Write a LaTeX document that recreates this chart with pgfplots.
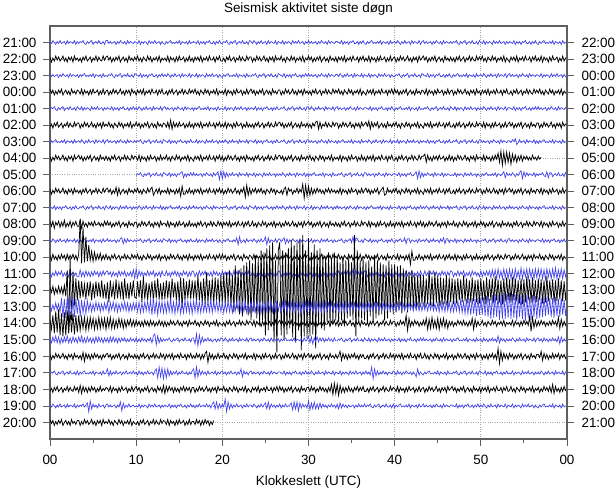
\documentclass[border=0pt]{standalone}
\usepackage{pgfplots}
\usepackage{pgfplotstable}
\pgfplotsset{compat=1.18}
\usepackage{fontspec}
\setmainfont{Liberation Sans}
\definecolor{trblue}{RGB}{65,65,240}
\definecolor{axgray}{RGB}{95,95,95}
\definecolor{gridgray}{RGB}{165,165,165}
% one line per hour trace (21:00 ... 20:00), one sample every 1/6 minute, amplitudes in px
\pgfplotstableread[header=false]{1 -1 2 0 -2 1 -1 2 -1 0 1 -2 2 -1 1 0 -1 2 -2 1  -1 1 0 2 -1 -2 1 -1 1 2 -2 0 1 -1 2 -1 -1 1 -2 2  2 -1 1 -1 0 1 -2 1 -1 2 0 -1 1 -2 2 -1 1 0 -1 1  0 -1 2 -2 1 -1 1 0 -2 2 -1 1 -1 2 -1 0 1 -2 1 -1  -2 1 -1 1 2 -1 0 -1 1 -1 2 -2 1 0 -1 1 -2 2 -1 0  1 0 -1 2 -2 1 -1 1 -2 1 0 2 -1 -1 1 -2 1 -1 2 -1  -1 1 0 2 -1 -2 1 -1 1 2 -2 0 1 -1 2 -1 -1 1 -2 2  1 -1 2 0 -2 1 -1 2 -1 0 1 -2 2 -1 1 0 -1 2 -2 1  0 -1 2 -2 1 -1 1 0 -2 2 -1 1 -1 2 -1 0 1 -2 1 -1  2 -1 1 -1 0 1 -2 1 -1 2 0 -1 1 -2 2 -1 1 0 -1 1  1 0 -1 2 -2 1 -1 1 -2 1 0 2 -1 -1 1 -2 1 -1 2 -1  -2 1 -1 1 2 -1 0 -1 1 -1 2 -2 1 0 -1 1 -2 2 -1 0  1 -1 2 0 -2 1 -1 2 -1 0 1 -2 2 -1 1 0 -1 2 -2 1  2 -1 1 -1 0 1 -2 1 -1 2 0 -1 1 -2 2 -1 1 0 -1 1  -1 1 0 2 -1 -2 1 -1 1 2 -2 0 1 -1 2 -1 -1 1 -2 2  0 -1 2 -2 1 -1 1 0 -2 2 -1 1 -1 2 -1 0 1 -2 1 -1  1 0 -1 2 -2 1 -1 1 -2 1 0 2 -1 -1 1 -2 1 -1 2 -1  -2 1 -1 1 2 -1 0 -1 1 -1 2 -2 1 0 -1 1 -2 2 -1 0  0
2 -3 1 -2 3 -1 2 -2 0 3 -2 1 -3 2 -1 2 -3 3 -1 1  -2 1 -3 2 -1 3 -2 0 2 -3 1 -1 3 -2 2 -1 -2 3 -1 2  3 -1 2 -3 1 -2 2 -1 3 -3 0 2 -2 1 -3 3 -1 1 -2 2  -1 3 -2 1 -3 2 0 -2 3 -1 2 -3 1 -1 2 -2 3 -3 1 -1  1 -2 3 -3 2 -1 1 -3 2 -2 3 -1 0 2 -3 1 -2 3 -2 1  -3 2 -1 2 -2 3 -3 1 -1 2 -2 3 -1 -1 2 -3 2 -1 3 -2  -2 1 -3 2 -1 3 -2 0 2 -3 1 -1 3 -2 2 -1 -2 3 -1 2  2 -3 1 -2 3 -1 2 -2 0 3 -2 1 -3 2 -1 2 -3 3 -1 1  -1 3 -2 1 -3 2 0 -2 3 -1 2 -3 1 -1 2 -2 3 -3 1 -1  3 -1 2 -3 1 -2 2 -1 3 -3 0 2 -2 1 -3 3 -1 1 -2 2  -3 2 -1 2 -2 3 -3 1 -1 2 -2 3 -1 -1 2 -3 2 -1 3 -2  1 -2 3 -3 2 -1 1 -3 2 -2 3 -1 0 2 -3 1 -2 3 -2 1  2 -3 1 -2 3 -1 2 -2 0 3 -2 1 -3 2 -1 2 -3 3 -1 1  3 -1 2 -3 1 -2 2 -1 3 -3 0 2 -2 1 -3 3 -1 1 -2 2  -2 1 -3 2 -1 3 -2 0 2 -3 1 -1 3 -2 2 -1 -2 3 -1 2  -1 3 -2 1 -3 2 0 -2 3 -1 2 -3 1 -1 2 -2 3 -3 1 -1  -3 2 -1 2 -2 3 -3 1 -1 2 -2 3 -1 -1 2 -3 2 -1 3 -2  1 -2 3 -3 2 -1 1 -3 2 -2 3 -1 0 2 -3 1 -2 3 -2 1  0
2 -1 1 -1 0 1 -2 1 -1 2 0 -1 1 -2 2 -1 1 0 -1 1  -2 1 -1 1 2 -1 0 -1 1 -1 2 -2 1 0 -1 1 -2 2 -1 0  -1 1 0 2 -1 -2 1 -1 1 2 -2 0 1 -1 2 -1 -1 1 -2 2  1 0 -1 2 -2 1 -1 1 -2 1 0 2 -1 -1 1 -2 1 -1 2 -1  1 -1 2 0 -2 1 -1 2 -1 0 1 -2 2 -1 1 0 -1 2 -2 1  0 -1 2 -2 1 -1 1 0 -2 2 -1 1 -1 2 -1 0 1 -2 1 -1  -2 1 -1 1 2 -1 0 -1 1 -1 2 -2 1 0 -1 1 -2 2 -1 0  -1 1 0 2 -1 -2 1 -1 1 2 -2 0 1 -1 2 -1 -1 1 -2 2  1 0 -1 2 -2 1 -1 1 -2 1 0 2 -1 -1 1 -2 1 -1 2 -1  2 -1 1 -1 0 1 -2 1 -1 2 0 -1 1 -2 2 -1 1 0 -1 1  1 -1 2 0 -2 1 -1 2 -1 0 1 -2 2 -1 1 0 -1 2 -2 1  0 -1 2 -2 1 -1 1 0 -2 2 -1 1 -1 2 -1 0 1 -2 1 -1  -1 1 0 2 -1 -2 1 -1 1 2 -2 0 1 -1 2 -1 -1 1 -2 2  1 0 -1 2 -2 1 -1 1 -2 1 0 2 -1 -1 1 -2 1 -1 2 -1  -2 1 -1 1 2 -1 0 -1 1 -1 2 -2 1 0 -1 1 -2 2 -1 0  1 -1 2 0 -2 1 -1 2 -1 0 1 -2 2 -1 1 0 -1 2 -2 1  2 -1 1 -1 0 1 -2 1 -1 2 0 -1 1 -2 2 -1 1 0 -1 1  0 -1 2 -2 1 -1 1 0 -2 2 -1 1 -1 2 -1 0 1 -2 1 -1  0
3 -1 2 -3 1 -2 2 -1 3 -3 0 2 -2 1 -3 3 -1 1 -2 2  1 -2 3 -3 2 -1 1 -3 2 -2 3 -1 0 2 -3 1 -2 3 -2 1  2 -3 1 -2 3 -1 2 -2 0 3 -2 1 -3 2 -1 2 -3 3 -1 1  -3 2 -1 2 -2 3 -3 1 -1 2 -2 3 -1 -1 2 -3 2 -1 3 -2  -2 1 -3 2 -1 3 -2 0 2 -3 1 -1 3 -2 2 -1 -2 3 -1 2  -1 3 -2 1 -3 2 0 -2 3 -1 2 -3 1 -1 2 -2 3 -3 1 -1  1 -2 3 -3 2 -1 1 -3 2 -2 3 -1 0 2 -3 1 -2 3 -2 1  3 -1 2 -3 1 -2 2 -1 3 -3 0 2 -2 1 -3 3 -1 1 -2 2  2 -3 1 -2 3 -1 2 -2 0 3 -2 1 -3 2 -1 2 -3 3 -1 1  -2 1 -3 2 -1 3 -2 0 2 -3 1 -1 3 -2 2 -1 -2 3 -1 2  -1 3 -2 1 -3 2 0 -2 3 -1 2 -3 1 -1 2 -2 3 -3 1 -1  -3 2 -1 2 -2 3 -3 1 -1 2 -2 3 -1 -1 2 -3 2 -1 3 -2  3 -1 2 -3 1 -2 2 -1 3 -3 0 2 -2 1 -3 3 -1 1 -2 2  1 -2 3 -3 2 -1 1 -3 2 -2 3 -1 0 2 -3 1 -2 3 -2 1  2 -3 1 -2 3 -1 2 -2 0 3 -2 1 -3 2 -1 2 -3 3 -1 1  -3 2 -1 2 -2 3 -3 1 -1 2 -2 3 -1 -1 2 -3 2 -1 3 -2  -2 1 -3 2 -1 3 -2 0 2 -3 1 -1 3 -2 2 -1 -2 3 -1 2  -1 3 -2 1 -3 2 0 -2 3 -1 2 -3 1 -1 2 -2 3 -3 1 -1  0
-1 1 0 2 -1 -2 1 -1 1 2 -2 0 1 -1 2 -1 -1 1 -2 2  0 -1 2 -2 1 -1 1 0 -2 2 -1 1 -1 2 -1 0 1 -2 1 -1  1 0 -1 2 -2 1 -1 1 -2 1 0 2 -1 -1 1 -2 1 -1 2 -1  1 -1 2 0 -2 1 -1 2 -1 0 1 -2 2 -1 1 0 -1 2 -2 1  2 -1 1 -1 0 1 -2 1 -1 2 0 -1 1 -2 2 -1 1 0 -1 1  -2 1 -1 1 2 -1 0 -1 1 -1 2 -2 1 0 -1 1 -2 2 -1 0  0 -1 2 -2 1 -1 1 0 -2 2 -1 1 -1 2 -1 0 1 -2 1 -1  1 0 -1 2 -2 1 -1 1 -2 1 0 2 -1 -1 1 -2 1 -1 2 -1  -1 1 0 2 -1 -2 1 -1 1 2 -2 0 1 -1 2 -1 -1 1 -2 2  1 -1 2 0 -2 1 -1 2 -1 0 1 -2 2 -1 1 0 -1 2 -2 1  2 -1 1 -1 0 1 -2 1 -1 2 0 -1 1 -2 2 -1 1 0 -1 1  1 0 -1 2 -2 1 -1 1 -2 1 0 2 -1 -1 1 -2 1 -1 2 -1  -2 1 -1 1 2 -1 0 -1 1 -1 2 -2 1 0 -1 1 -2 2 -1 0  -1 1 0 2 -1 -2 1 -1 1 2 -2 0 1 -1 2 -1 -1 1 -2 2  0 -1 2 -2 1 -1 1 0 -2 2 -1 1 -1 2 -1 0 1 -2 1 -1  1 -1 2 0 -2 1 -1 2 -1 0 1 -2 2 -1 1 0 -1 2 -2 1  1 0 -1 2 -2 1 -1 1 -2 1 0 2 -1 -1 1 -2 1 -1 2 -1  2 -1 1 -1 0 1 -2 1 -1 2 0 -1 1 -2 2 -1 1 0 -1 1  0
-2 1 -3 2 -1 3 -2 0 2 -3 1 -1 3 -2 2 -1 -2 3 -1 2  2 -3 1 -2 3 -1 2 -2 0 3 -2 1 -3 2 -1 2 -3 3 -1 1  -1 3 -2 1 -3 2 0 -2 3 -1 2 -3 1 -1 2 -2 3 -3 1 -1  3 -1 2 -3 1 -2 2 -1 3 -3 0 2 -2 1 -3 3 -1 1 -2 2  1 -2 3 -3 5 -4 3 -2 2 -2 3 -1 0 2 -3 1 -2 3 -2 1  -3 2 -1 2 -2 3 -3 1 -1 2 -2 3 -1 -1 2 -3 2 -1 3 -2  1 -2 3 -3 2 -1 1 -3 2 -2 3 -1 0 2 -3 1 -2 3 -2 1  -2 1 -3 2 -1 3 -2 0 2 -3 1 -1 3 -2 2 -1 -2 3 -1 2  3 -1 2 -3 1 -2 2 -1 3 -3 0 2 -2 1 -3 3 -1 1 -2 2  -2 1 -3 2 -1 3 4 -4 3 -3 1 -1 3 -2 2 -1 -2 3 -1 2  2 -3 1 -2 3 -1 2 -2 0 3 -2 1 -3 2 -1 2 -3 3 -1 1  3 -1 4 -4 3 -2 2 -1 3 -3 0 2 -2 1 -3 3 -1 1 -2 2  -1 3 -2 1 -3 2 0 -2 3 -1 2 -3 1 -1 2 -2 3 -3 1 -1  -3 2 -1 2 -2 3 -3 1 -1 2 -2 3 -1 -1 2 -3 2 -1 3 -2  -2 1 -3 2 -1 3 -2 0 2 -3 1 -1 3 -2 2 -1 -2 3 -1 2  1 -2 3 -3 2 -1 1 -3 2 -2 3 -1 0 2 -3 1 -2 3 -2 1  3 -1 2 -3 1 -2 2 -1 3 -3 0 2 -2 1 -3 3 -1 1 -2 2  2 -3 1 -2 3 -1 2 -2 0 3 -2 1 -3 2 -1 2 -3 3 -1 1  0
-2 1 -1 1 2 -1 0 -1 1 -1 2 -2 1 0 -1 1 -2 2 -1 0  1 -1 2 0 -2 1 -1 2 -1 0 1 -2 2 -1 1 0 -1 2 -2 1  2 -1 1 -1 0 1 -2 1 -1 2 0 -1 1 -2 2 -1 1 0 -1 1  -1 1 0 2 -1 -2 1 -1 1 2 -2 0 1 -1 2 -1 -1 1 -2 2  1 0 -1 2 -2 1 -1 1 -2 1 0 2 -1 -1 1 -2 1 -1 2 -1  0 -1 2 -2 1 -1 1 0 -2 2 -1 1 -1 2 -1 0 1 -2 1 -1  1 -1 2 0 -2 1 -1 2 -1 0 1 -2 2 -1 1 0 -1 2 -2 1  1 0 -1 2 -2 1 -1 1 -2 1 0 2 -1 -1 1 -2 1 -1 2 -1  -1 1 0 2 -1 -2 1 -1 1 2 -2 0 1 -1 2 -1 -1 1 -2 2  2 -1 1 -1 0 1 -2 1 -1 2 0 -1 1 -2 2 -1 1 0 -1 1  -2 1 -1 1 2 -1 0 -1 1 -1 2 -2 1 0 -1 1 -2 2 -1 0  1 -1 2 0 -2 1 -1 2 -1 0 1 -2 2 -1 1 0 -1 2 -2 1  0 -1 2 -2 1 -1 1 0 -2 2 -1 1 -1 2 -1 0 1 -2 1 -1  1 0 -1 2 -2 1 -1 1 -2 1 0 2 -1 -1 1 -2 1 -1 2 -1  -1 1 0 2 -1 -2 1 -1 1 2 -2 0 1 -1 2 -1 -1 1 -2 2  2 -1 1 -1 0 1 -2 1 -1 2 0 -1 1 -2 2 -1 1 0 -1 1  1 -1 2 0 3 -3 -1 2 -1 0 1 -2 2 -1 1 0 -1 2 -2 1  -2 1 -1 1 2 -1 0 -1 1 -1 2 -2 1 0 -1 1 -2 2 -1 0  0
2 -3 1 -2 3 -1 2 -2 0 3 -2 1 -3 2 -1 2 -3 3 -1 1  3 -1 2 -3 1 -2 2 -1 3 -3 0 2 -2 1 -3 3 -1 1 -2 2  -2 1 -3 2 -1 3 -2 0 2 -3 1 -1 3 -2 2 -1 -2 3 -1 2  1 -2 3 -3 2 -1 1 -3 2 -2 3 -1 0 2 -3 1 -2 3 -2 1  -1 3 -2 1 -3 2 0 -2 3 -1 2 -3 1 -1 2 -2 3 -3 1 -1  -3 2 -1 2 -2 3 -3 1 -1 2 -2 3 -1 -1 2 -3 2 -1 3 -2  2 -3 1 -2 3 -1 2 -2 0 3 -2 1 -3 2 -1 2 -3 3 -1 1  -2 1 -3 2 -1 3 -2 0 2 -3 1 -1 3 -2 2 -1 -2 3 -1 2  3 -1 2 -3 1 -2 2 -1 3 -3 0 2 -2 1 -3 3 -1 1 -2 2  -1 3 -2 1 -3 2 0 -2 3 -1 2 -3 1 -1 2 -2 3 -3 1 -1  1 -2 3 -3 2 -1 1 -3 2 -2 3 -1 0 2 -3 1 -2 3 -2 1  -3 2 -1 2 -2 3 -3 1 -1 2 -2 3 -1 -1 2 -3 2 -1 3 -2  -2 1 -3 2 -1 3 -2 0 2 -3 1 -1 3 -2 2 -1 -2 3 -1 2  2 4 -4 3 -2 1 -3 2 -1 2 -2 3 -1 0 2 -3 1 -2 3 -2  2 -3 1 -2 3 -1 2 -2 0 3 -2 1 -3 2 -1 2 -3 3 -1 1  1 -2 3 -3 2 -1 1 -3 2 -2 3 -1 5 -4 7 -7 6 -5 6 -4  5 -6 4 -3 3 -4 2 -2 3 -3 2 -1 2 -2 1 -2 3 -1 1 -2  2 -1 1 0 0 0 0 0 0 0 0 0 0 0 0 0 0 0 0 0  0
0 0 0 0 0 0 0 0 0 0 0 0 0 0 0 0 0 0 0 0  0 0 0 0 0 0 0 0 0 0 0 0 0 0 0 0 0 0 0 0  0 0 0 0 0 0 0 0 0 0 0 0 0 0 0 0 0 0 0 0  -1 1 0 2 -1 -2 1 -1 1 2 -2 0 1 -1 2 -1 -1 1 -2 2  1 0 -1 2 -2 1 -1 1 -2 1 0 2 3 -3 1 -2 1 -1 2 -1  2 -1 1 -1 0 1 -2 1 -1 2 0 -1 1 -2 2 -1 1 3 -5 4  -4 3 -3 2 -2 1 -1 2 -1 0 1 -2 2 -1 1 0 -1 2 -2 1  0 -1 2 -2 1 -1 1 0 -2 2 -1 1 -1 2 -1 0 1 -2 1 -1  1 -1 2 0 -2 1 -1 2 -1 0 1 -2 2 -1 1 0 -1 2 -2 1  -2 1 -1 1 2 -1 0 -1 1 -1 2 -2 1 0 -1 1 -2 2 -1 0  -1 1 0 2 -1 -2 1 -1 1 2 -2 0 1 -1 2 -1 -1 1 -2 2  2 -1 1 -1 0 1 -2 1 -1 2 0 -1 1 -2 2 -1 1 0 -1 1  1 0 -1 2 -2 1 -1 1 -2 1 0 2 -1 -1 1 3 -4 4 -3 2  -2 1 -1 2 0 -1 1 -2 2 -1 1 0 -1 2 -2 1 -1 1 0 -1  0 -1 2 -2 1 -1 1 0 -2 2 -1 1 -1 2 -1 0 1 -2 1 -1  -2 1 -1 1 2 -1 0 -1 1 -1 2 -2 1 0 -1 1 3 -3 2 -1  1 -1 2 0 -2 1 -1 2 4 -4 3 -2 2 -1 1 0 -1 2 -2 1  -1 1 0 2 -1 -2 3 -3 2 2 -2 0 1 -1 2 -1 -1 1 -2 2  0
2 -3 1 -2 3 -1 2 -2 0 3 -2 1 -3 2 -1 2 -3 3 -1 1  -2 1 -3 2 -1 3 -2 0 2 -3 1 -1 3 -2 2 -1 -2 3 -1 2  3 -1 2 -3 1 -2 4 -4 3 -3 0 2 -2 1 -3 3 -1 1 -2 2  -1 3 -2 1 -3 2 0 -2 3 -1 2 4 -4 -1 2 -2 3 -3 1 -1  1 -2 3 -3 2 -1 1 -3 2 -2 3 -5 5 -3 -3 1 -2 3 -2 1  -3 2 -1 2 -2 3 -3 1 -1 2 -2 3 -1 -1 2 -3 2 -1 3 -2  2 -3 1 -2 3 -1 2 -2 0 3 -2 1 -3 2 -1 4 -6 6 -4 3  -3 2 -1 3 -2 2 -1 3 -2 1 -3 2 0 -2 3 -1 2 -3 1 -1  -2 1 -3 2 4 -4 3 0 2 -3 1 -1 3 -2 2 -1 7 -7 6 -5  5 -4 3 -3 2 -2 3 -1 2 -2 1 -3 2 -1 3 -2 2 -1 1 -2  1 -2 3 -3 2 -1 1 -3 2 -2 3 -1 0 2 -3 1 -2 3 -2 1  3 -1 2 -3 1 -2 2 -1 3 -3 0 2 4 -4 -3 3 -1 1 -2 2  -1 3 -2 1 -3 2 0 -2 3 -1 2 -3 1 -1 2 -2 3 -3 1 -1  -3 2 -1 2 -2 3 -3 1 -1 2 -2 3 -1 -1 2 -3 2 -1 3 -2  -2 1 -3 2 -1 3 -2 0 2 -3 1 -1 3 -2 2 -1 -2 3 -1 2  2 -3 1 -2 3 -1 2 -2 0 3 -2 1 -3 2 -1 2 -3 3 -1 1  3 -1 2 -3 1 -2 2 -1 3 -3 0 2 -2 1 -3 3 -1 1 -2 2  1 -2 3 -3 2 -1 1 -3 2 -2 3 -1 0 2 -3 1 -2 3 -2 1  0
1 0 -1 2 -2 1 -1 1 -2 1 0 2 -1 -1 1 -2 1 -1 2 -1  -1 1 0 2 -1 -2 1 -1 1 2 -2 0 1 -1 2 -1 -1 1 -2 2  0 -1 2 -2 1 -1 1 0 -2 2 -1 1 -1 2 -1 0 1 -2 1 -1  1 -1 2 0 -2 1 -1 2 -1 0 1 -2 2 -1 1 0 -1 2 -2 1  -2 1 -1 1 2 -1 0 -1 1 -1 2 -2 1 0 -1 1 -2 2 -1 0  2 -1 1 -1 0 1 -2 1 -1 2 0 -1 1 -2 2 -1 1 0 -1 1  -1 1 0 2 -1 -2 1 -1 1 2 -2 0 1 -1 2 -1 -1 1 -2 2  1 0 -1 2 -2 1 -1 1 -2 1 0 2 -1 -1 1 -2 1 -1 2 -1  1 -1 2 0 -2 1 -1 2 -1 0 1 -2 2 -1 1 0 -1 2 -2 1  0 -1 2 -2 1 -1 1 0 -2 2 -1 1 -1 2 -1 0 1 -2 1 -1  2 -1 1 -1 0 1 -2 1 -1 2 0 -1 1 -2 2 -1 1 0 -1 1  -2 1 -1 1 2 -1 0 -1 1 -1 2 -2 1 0 -1 1 -2 2 -1 0  1 0 -1 2 -2 1 -1 1 -2 1 0 2 -1 -1 1 -2 1 -1 2 -1  1 -1 2 0 -2 1 -1 2 -1 0 1 -2 2 -1 1 0 -1 2 -2 1  -1 1 0 2 -1 -2 1 -1 1 2 -2 0 1 -1 2 -1 -1 1 -2 2  0 -1 2 -2 1 -1 1 0 -2 2 -1 1 -1 2 -1 0 1 -2 1 -1  2 -1 1 -1 0 1 -2 1 -1 2 0 -1 1 -2 2 -1 1 0 -1 1  -2 1 -1 1 2 -1 0 -1 1 -1 2 -2 1 0 -1 1 -2 2 -1 0  0
3 -2 3 -4 2 -1 3 -3 2 -2 4 -3 1 -2 3 -3 2 -1 3 -2  -2 4 -4 3 -2 1 -3 2 -1 2 -2 3 -1 0 2 -2 1 -2 3 -1  3 -1 2 -3 1 -2 2 -1 3 -3 0 2 -2 1 -3 3 -1 1 -2 2  2 -3 1 -2 3 -1 2 -2 0 3 -2 1 -3 2 -1 2 -3 3 -1 1  1 -2 3 -3 2 -1 1 -3 2 -2 3 -1 0 2 -3 1 -2 3 -2 1  -2 1 -3 2 -1 3 -2 0 2 -3 1 -1 3 -2 2 -1 -2 3 -1 2  -3 2 -1 2 -2 3 -3 1 -1 2 -2 3 -1 -1 2 -3 2 -1 3 -2  -1 3 -2 1 -3 2 0 -2 3 -1 2 -3 1 -1 2 -2 3 -3 1 -1  2 -3 1 -2 3 -1 2 -2 0 3 -2 1 -3 2 -1 2 -3 3 -1 1  3 -1 2 -3 1 -2 2 -1 3 -3 0 2 -2 1 -3 3 -1 1 -2 2  -2 1 -3 2 -1 3 -2 0 2 -3 1 -1 3 -2 2 -1 -2 3 -1 2  1 -2 3 -3 2 -1 1 -3 2 -2 3 -1 0 2 -3 1 -2 3 -2 1  -3 2 -1 2 -2 3 -3 1 -1 2 -2 3 -1 -1 2 -3 2 -1 3 -2  2 -3 1 -2 3 -1 2 -2 0 3 -2 1 -3 2 -1 2 -3 3 -1 1  -1 3 -2 1 -3 2 0 -2 3 -1 2 -3 1 -1 2 -2 3 -3 1 -1  3 -1 2 -3 1 -2 2 -1 3 -3 0 2 -2 1 -3 3 -1 1 -2 2  -2 1 -3 2 -1 3 -2 0 2 -3 1 -1 3 -2 2 -1 -2 3 -1 2  1 -2 3 -3 2 -1 1 -3 2 -2 3 -1 0 2 -3 1 -2 3 -2 1  0
1 -1 2 0 -2 1 -1 2 -1 0 1 -2 2 -1 1 0 -1 2 -2 1  -2 1 -1 1 2 -1 0 -1 1 -1 2 -2 1 0 -1 1 -2 2 -1 0  2 -1 1 -1 0 1 -2 1 -1 2 3 -3 2 -2 2 -1 1 0 -1 1  -1 1 0 2 -1 -2 1 -1 1 2 -2 0 1 -1 2 -1 -1 1 -2 2  1 0 -1 2 -2 1 -1 1 -2 1 0 2 -1 -1 1 -2 1 -1 2 -1  0 -1 2 -2 1 -1 1 0 -2 2 -1 1 -1 2 -1 0 1 -2 1 -1  -2 1 -1 1 2 -1 0 -1 1 -1 3 -4 4 -2 -1 1 -2 2 -1 0  1 -1 2 0 -2 1 -1 2 -1 0 4 -4 3 -2 1 0 -1 2 -2 1  2 -1 1 3 -3 2 -2 1 -1 2 0 -1 1 -2 2 -1 1 0 -1 1  0 -1 2 -2 1 -1 1 0 -2 2 -1 1 -1 2 -1 0 1 -2 1 -1  -1 1 0 2 -1 -2 1 -1 1 2 -2 4 -4 3 2 -1 -1 1 -2 2  1 0 -1 2 -2 1 -1 1 -2 1 0 2 -1 -1 1 -2 1 -1 2 -1  -2 1 -1 1 2 -1 0 3 -3 2 2 -2 1 0 -1 1 -2 2 -1 0  1 -1 2 0 -2 1 -1 2 -1 0 1 -2 2 -1 3 -3 2 2 -2 1  0 -1 2 -2 1 -1 1 0 -2 2 -1 1 -1 2 -1 0 1 -2 1 -1  -1 1 0 2 -1 -2 1 -1 1 2 -2 0 1 -1 2 -1 -1 1 -2 2  2 -1 1 -1 0 1 -2 1 -1 2 0 -1 1 -2 2 -1 1 0 -1 1  1 0 -1 2 -2 1 -1 1 -2 1 0 2 -1 -1 1 -2 1 -1 2 -1  0
2 -3 3 -2 1 -3 2 -2 3 -1 2 -3 3 -2 2 -1 3 -2 2 -3  3 38 -6 30 -5 20 -4 12 -3 6 -4 5 -3 3 -2 4 -3 2 -2 3  -2 1 -3 2 -1 3 -2 0 2 -3 1 -1 3 -2 2 -1 -2 3 -1 2  -1 3 -2 1 -3 2 0 -2 3 -1 2 -3 1 -1 2 -2 3 -3 1 -1  2 -3 1 -2 3 -1 2 -2 0 3 -2 1 -3 2 -1 2 -3 3 -1 1  -3 2 -1 2 -2 3 -3 1 -1 2 -2 3 -1 -1 2 -3 2 -1 3 -2  3 -1 2 -3 1 -2 2 -1 3 -3 0 2 -2 1 -3 3 -1 1 -2 2  1 -2 3 -3 2 -1 1 -3 2 -2 3 -1 0 2 -3 1 -2 3 -2 1  -2 1 -3 2 -1 3 -2 0 2 -3 1 -1 3 -2 2 -1 -2 3 -1 2  2 -3 1 -2 3 -1 2 -2 0 3 -2 1 -3 2 -1 2 -3 3 -1 1  -1 3 -2 1 -3 2 0 -2 3 -1 2 -3 1 -1 2 -2 3 -3 1 -1  3 -1 2 -3 1 -2 2 -1 3 -3 0 2 -2 1 -3 3 -1 1 -2 2  1 -2 3 -3 2 -1 1 -3 2 -2 3 -7 6 -3 -3 1 -2 3 -2 1  -3 2 -1 2 -2 3 -3 1 -1 2 -2 3 -1 -1 2 -3 2 -1 3 -2  1 -2 3 -3 2 -1 1 -3 2 -2 3 -1 0 2 -3 1 -2 3 -2 1  -2 1 -3 2 -1 3 -2 0 2 -3 1 -1 3 -2 2 -1 -2 3 -1 2  2 -3 1 -2 3 -1 2 -2 0 3 -2 1 -3 2 -1 2 -3 3 -1 1  -1 3 -2 1 -3 2 0 -2 3 -1 2 -3 1 -1 2 -2 3 -3 1 -1  0
2 -3 1 -2 3 -2 2 -1 3 -3 1 -2 2 -3 3 -1 2 -2 1 -3  -3 4 -3 2 -3 3 -2 2 -3 2 -2 3 -1 2 -3 2 -2 3 -1 2  3 -1 2 -3 2 -2 1 -3 3 -2 2 -1 3 -3 1 -2 2 -3 4 -5  5 -4 3 -2 2 -3 1 -2 3 -2 2 -1 3 -3 1 -2 2 -3 3 -1  -2 3 -2 1 -3 2 -1 3 -2 2 -3 1 -2 3 -1 2 -3 2 -2 3  2 -3 1 -2 3 -2 2 -1 3 -3 1 -2 2 -3 3 -1 2 -2 1 -3  3 -1 2 -3 2 -2 1 -3 3 -2 2 -1 3 -3 1 -2 2 -3 3 -1  -2 3 -2 1 -3 2 -1 3 -2 2 -3 1 -2 3 -1 2 -3 2 -2 3  2 -3 1 -2 3 -2 2 -1 3 -3 1 -2 2 -3 3 -1 2 -2 1 -3  3 -1 2 -3 2 -2 1 -3 3 -2 2 -1 3 -3 1 -2 2 -3 3 -1  -2 3 -2 1 -3 2 -1 3 -2 2 -3 5 -5 4 -1 2 -3 2 -2 3  2 -3 1 -2 3 -2 2 -1 3 -3 1 -2 2 -3 3 -1 2 -2 1 -3  3 -1 2 -3 2 -2 1 -3 3 -2 2 -1 3 -3 1 -2 2 -3 3 -1  -2 3 -2 1 -3 2 -1 3 -2 2 -3 1 -2 3 -1 2 -3 2 -2 3  2 -3 1 -2 3 -2 2 -1 3 -3 1 -2 2 -3 3 -1 2 -2 1 -3  3 -3 2 -2 3 -2 3 -4 4 -3 4 -5 5 -4 3 -5 5 -4 4 -5  5 -5 4 -6 5 -4 3 -5 6 -5 4 -3 5 -6 5 -4 4 -5 5 -4  5 -4 5 -5 4 -6 5 -3 4 -5 5 -4 6 -5 4 -4 5 -5 4 -3  3
3 -2 4 -4 2 -3 4 -3 3 -4 5 -6 20 -42 33 -30 18 -15 12 -10  10 -8 9 -7 6 -9 8 -6 9 -10 7 -8 9 -6 8 -7 10 -8 6 -9  8 -12 10 -7 6 -9 11 -8 7 -6 9 -10 12 -8 7 -9 8 -6 10 -7  -8 9 -7 10 -12 14 -9 8 -10 7 -6 9 -11 10 -8 12 -9 7 -10 8  -9 10 -8 9 -11 12 -7 8 -10 9 -12 13 -18 12 -10 9 -8 11 -9 10  -8 10 -12 15 -10 9 -13 12 -14 18 -12 10 -11 12 -14 13 -10 12 -15 14  -15 17 -14 18 -12 20 -16 15 -22 25 -18 20 -24 22 -26 25 -20 28 -25 30  -30 27 -22 35 -28 32 -36 40 -30 38 -45 42 -40 45 -35 48 -52 30 -62 40  48 -45 40 -50 38 -44 42 -38 50 -47 45 -52 48 -40 50 -60 55 -46 40 -48  52 -46 38 -44 46 -58 40 -35 42 -38 36 -40 34 -32 38 -36 30 -34 38 -30  35 -32 28 -30 34 -36 30 -28 34 -26 28 -30 55 -46 40 -32 30 -28 32 -30  28 -32 30 -26 24 -30 34 -28 30 -25 28 -24 26 -30 25 -28 30 -22 26 -24  26 -22 24 -20 25 -23 22 -18 20 -22 18 -16 20 -18 16 -20 15 -18 16 -14  15 -17 12 -14 20 -15 14 -16 18 -13 14 -16 13 -15 12 -14 15 -16 13 -12  12 -14 11 -13 12 -10 11 -12 15 -11 12 -13 10 -12 13 -11 10 -12 11 -13  12 -11 10 -14 13 -12 11 -10 12 -13 14 -10 11 -12 10 -14 12 -11 13 -10  11 -12 13 -10 12 -11 10 -13 12 -14 11 -12 14 -10 11 -12 13 -11 10 -12  12 -10 11 -13 10 -12 14 -11 10 -9 11 -12 10 -11 12 -9 10 -11 9 -10  8
3 -4 2 -3 4 -3 3 -5 9 -10 8 -11 10 -9 11 -8 9 -10 8 -7  8 -10 7 -6 5 -7 6 -4 4 -5 3 -4 5 -3 4 -5 3 -4 4 -3  5 -6 4 -3 5 -4 4 -5 3 -4 4 -3 5 -4 4 -5 3 -4 4 -3  4 -5 5 -6 4 -5 5 -4 6 -5 7 -8 9 -7 6 -8 6 -5 5 -6  5 -6 6 -5 7 -6 5 -7 6 -5 6 -7 5 -6 7 -5 6 -6 5 -7  6 -5 7 -6 5 -6 6 -5 4 -5 6 -5 7 -6 5 -4 6 -5 4 -5  5 -6 4 -5 6 -5 4 -6 5 -4 5 -4 6 -5 4 -5 5 -6 4 -5  5 -4 6 -5 4 -5 5 -6 4 -5 4 -5 5 -4 6 -5 4 -5 5 -4  4 -5 5 -4 6 -5 4 -5 5 -4 5 -4 4 -5 5 -6 4 -4 5 -5  5 -4 4 -5 5 -6 4 -4 5 -5 4 -5 5 -4 4 -5 5 -4 3 -4  4 -5 5 -4 4 -5 5 -4 3 -4 4 -3 4 -4 3 -4 4 -3 4 -4  4 -3 4 -4 3 -4 4 -3 4 -4 3 -4 4 -3 4 -3 3 -4 3 -3  3 -4 4 -3 4 -3 3 -4 3 -3 4 -3 3 -4 4 -3 4 -4 3 -4  4 -3 3 -4 4 -3 4 -4 3 -4 4 -5 5 -4 4 -5 5 -4 5 -5  4 -5 5 -4 6 -5 7 -6 5 -7 8 -7 6 -8 9 -7 8 -9 10 -8  9 -8 10 -9 11 -10 8 -12 12 -11 13 -10 12 -13 11 -12 14 -12 13 -11  14 -12 13 -11 12 -14 12 -10 11 -12 13 -14 12 -11 10 -13 12 -10 11 -12  10 -11 9 -10 11 -9 10 -8 9 -10 9 -11 10 -9 8 -10 9 -8 7 -9  6
4 -6 8 -10 12 -9 14 -12 10 -13 11 -12 13 -10 12 -9 10 -11 8 -9  8 -7 6 -5 6 -7 5 -6 6 -4 5 -6 4 -5 6 -5 5 -4 5 -6  5 -4 6 -5 4 -5 3 -4 5 -3 4 -5 3 -4 3 -2 4 -3 3 -3  3 -2 2 -3 2 -3 3 -2 2 -3 3 -2 2 -3 1 -2 3 -2 2 -3  2 -3 1 -2 3 -1 2 -2 0 3 -2 1 -3 2 -1 2 -3 3 -1 1  -1 3 -2 1 -3 2 0 -2 3 -1 2 -3 1 -1 2 -2 3 -3 1 -1  -2 1 -3 2 -1 3 -2 0 2 -3 1 -1 3 -2 2 -1 -2 3 -1 2  1 -2 3 -3 2 -1 1 -3 2 -2 3 -1 0 2 -3 1 -2 3 -2 1  3 -1 2 -3 1 -2 2 -1 3 -3 0 2 -2 1 -3 3 -1 1 -2 2  -3 2 -1 2 -2 3 -3 1 -1 2 -2 3 -1 -1 2 -3 2 -1 3 -2  2 -3 1 -2 3 -1 2 -2 0 3 -2 1 -3 2 -1 2 -3 3 -1 1  -2 1 -3 2 -1 3 -2 0 2 -3 1 -1 3 -2 2 -1 -2 3 -1 2  2 -3 1 -2 3 -1 2 -2 8 -7 5 -3 2 -2 3 -1 2 -3 1 -2  3 -2 5 -6 4 -5 6 -4 3 -5 5 -6 4 -3 5 -4 3 -5 2 -2  2 -3 1 -2 3 -1 2 -2 3 -2 1 -3 2 -2 5 -6 4 -3 2 -2  -1 3 -2 1 -3 2 0 -2 3 -1 2 -3 1 -1 2 -2 3 -3 1 -1  1 -2 3 -3 2 -1 1 -3 2 -2 3 -1 2 -2 7 -8 6 -4 3 -3  2 -2 3 -1 2 -3 1 -2 2 -2 3 -1 2 -3 6 -5 4 -3 2 -2  2
2 -3 3 -2 4 -3 3 -4 2 -3 3 -2 4 -3 2 -3 3 -2 2 -3  3 -2 4 -3 2 -3 3 -2 2 -3 2 -3 3 -2 3 -2 2 -3 2 -2  2 -3 3 -2 3 -2 2 -3 2 -2 2 -1 2 -2 1 -2 2 -1 1 -2  2 -2 1 -2 2 -1 1 -2 1 -1 2 -3 4 6 -5 4 -3 2 -2 1  -1 1 0 2 -1 -2 1 -1 1 2 -2 0 1 -1 2 -1 -1 1 -2 2  2 -4 6 -6 5 -4 3 -2 1 -1 2 -1 1 -2 0 1 -2 1 -1 2  1 -1 2 0 -2 1 -1 2 -1 0 1 -2 2 -1 1 0 -1 2 -2 1  2 -1 1 -1 0 1 -2 1 -1 2 0 -1 1 -2 2 -1 1 0 -1 1  -2 1 -1 1 2 -1 0 -1 1 -1 2 -2 1 0 -1 1 -2 2 -1 0  4 -3 3 -4 2 -2 3 -2 2 -1 2 -2 1 -1 2 -1 1 -2 2 -1  -1 1 0 2 -1 -2 1 -1 1 2 -2 0 1 -1 2 -1 -1 1 -2 2  0 -1 2 -2 1 -1 1 0 -2 2 -1 1 -1 2 -1 0 1 -2 1 -1  1 0 -1 2 -2 1 -1 1 -2 1 0 2 -1 -1 1 -2 1 -1 2 -1  2 -1 1 -1 0 1 -2 1 -1 2 0 -1 1 -2 2 -1 1 0 -1 1  -2 1 -1 1 2 -1 0 -1 1 -1 2 -2 1 0 -1 1 -2 2 -1 0  1 -2 2 -1 1 -2 1 -1 2 -1 1 -2 4 -3 2 -1 1 -2 1 -1  1 -1 2 0 -2 1 -1 2 -1 0 1 -2 2 -1 1 0 -1 2 -2 1  2 -1 1 -2 2 -1 1 -2 1 -1 2 -1 1 -2 3 -4 3 -2 1 -1  0
2 -3 1 -2 3 -1 2 -2 0 3 -2 1 -3 2 -1 2 -3 3 -1 1  -2 1 -3 4 -5 3 -2 2 -3 2 -2 3 -1 2 -2 1 -3 2 -1 2  3 -1 2 -3 1 -2 2 -1 3 -3 0 2 -2 1 -3 3 -1 1 -2 2  -2 1 -3 2 -1 3 -2 0 2 -3 1 -1 3 -2 2 -1 -2 3 -1 2  -3 2 -1 2 -2 3 -3 1 -1 2 -2 3 -1 -1 2 -3 2 -1 3 -2  1 -2 3 -1 2 -3 2 -2 3 5 -6 3 -2 2 -3 1 -2 3 -2 1  -1 3 -2 1 -3 2 0 -2 3 -1 2 -3 1 -1 2 -2 3 -3 1 -1  1 -2 3 -3 2 -1 1 -3 2 -2 3 -1 0 2 -3 1 -2 3 -2 1  2 -3 1 -2 3 -1 2 -2 0 3 -2 1 -3 2 -1 2 -3 3 -1 1  3 -1 2 -3 1 -2 2 -1 3 -3 0 2 -2 1 -3 3 -1 1 -2 2  -2 1 5 -4 3 -2 2 -3 2 -2 2 -1 3 -2 1 -3 2 -1 2 -2  -2 1 -3 2 -1 3 -2 0 2 -3 1 -1 3 -2 2 -1 -2 3 -1 2  -3 2 -1 2 -2 3 -3 1 -1 2 -2 3 -1 -1 2 -3 2 -1 3 -2  -1 3 -2 1 -3 2 0 -2 3 -1 2 -3 1 -1 2 -2 3 -3 1 -1  2 -3 1 -2 3 -1 2 -2 0 3 -2 1 -3 2 -1 2 -3 3 -1 1  2 -3 1 -2 2 -3 2 -1 3 -2 2 -3 8 -7 5 -4 3 -2 2 -3  3 -1 2 -3 1 -2 2 -1 3 -3 0 2 -2 1 -3 3 -1 1 -2 2  2 -1 5 -4 3 -2 2 -3 1 -2 3 -2 2 -1 3 -3 2 -1 2 -2  1
-1 1 0 2 -1 -2 1 -1 1 2 -2 0 1 -1 2 -1 -1 1 -2 2  -2 1 -1 1 2 -1 0 -1 1 -1 2 -2 1 0 -1 1 -2 2 -1 0  4 -3 2 -2 1 -1 2 -1 0 1 -2 1 -1 2 -1 0 1 -1 2 -1  1 -2 2 -1 1 -2 1 -1 2 -1 0 1 -2 2 4 -5 6 -4 5 -6  4 -5 4 -3 2 -2 1 -1 2 -2 1 -1 2 0 -1 1 -2 1 -1 2  4 -5 6 -4 3 -2 2 -1 1 -2 2 -1 0 1 -1 2 -2 1 -1 1  2 -1 1 -2 1 -1 2 -1 0 1 -2 1 -1 4 -4 2 -1 1 -2 1  2 -1 1 -1 0 1 -2 1 -1 2 0 -1 1 -2 2 -1 1 0 -1 1  1 0 -1 2 -2 1 -1 1 -2 1 0 2 -1 -1 1 -2 1 -1 2 -1  1 -1 2 0 -2 1 -1 2 -1 0 1 -2 2 -1 1 0 -1 2 -2 1  0 -1 2 -2 1 -1 1 0 -2 2 -1 1 -1 2 -1 0 1 -2 1 -1  2 -1 1 -2 6 -6 4 -3 2 -2 1 -1 2 -1 1 -2 1 0 -1 2  1 -2 2 -1 1 -2 1 -1 2 0 -1 1 -2 1 -1 -4 4 -2 1 -1  -2 1 -1 1 2 -1 0 -1 1 -1 2 -2 1 0 -1 1 -2 2 -1 0  -1 1 0 2 -1 -2 1 -1 1 2 -2 0 1 -1 2 -1 -1 1 -2 2  1 0 -1 2 -2 1 -1 1 -2 1 0 2 -1 -1 1 -2 1 -1 2 -1  0 -1 2 -2 1 -1 1 0 -2 2 -1 1 -1 2 -1 0 1 -2 1 -1  1 -1 2 0 -2 1 -1 2 -1 0 1 -2 2 -1 1 0 -1 2 -2 1  0
-2 1 -3 2 -1 3 -2 0 2 -3 1 -1 3 -2 2 -1 -2 3 -1 2  -3 4 -4 3 -2 2 -3 2 -2 3 -1 2 -3 1 -2 3 -2 1 -1 2  1 -2 3 -3 2 -1 1 -3 2 -2 3 -1 0 2 -3 1 -2 3 -2 1  3 -1 2 -3 1 -2 2 -1 3 -3 0 2 -2 1 -3 3 -1 2 -3 4  -4 3 -2 3 -1 2 -3 2 -2 1 -3 2 -1 3 -2 2 -1 2 -3 2  2 -3 1 -2 3 -1 2 -2 0 3 -2 1 -3 2 -1 2 -3 3 -1 1  -1 3 -2 1 -3 2 0 -2 3 -1 2 -3 1 -1 2 -2 3 -3 1 -1  -3 2 -1 2 -2 3 -3 1 -1 2 -2 3 -1 -1 2 -3 2 -1 3 -2  3 -1 2 -3 1 -2 2 -1 3 -3 0 2 -2 1 -3 3 -1 1 -2 2  2 -2 3 -1 2 -3 1 -2 3 -1 2 -2 1 -3 2 -2 5 -5 6 -4  5 -6 4 -3 2 -3 2 -2 3 -2 1 -3 2 -1 3 -2 2 -1 3 -2  -2 1 -3 2 -1 3 -2 0 2 -3 1 -1 3 -2 2 -1 -2 3 -1 2  1 -2 3 -3 2 -1 1 -3 2 -2 3 -1 0 2 -3 1 -2 3 -2 1  2 -3 1 -2 3 -1 2 -2 0 3 -2 1 -3 2 -1 2 -3 3 -1 1  3 -1 2 -3 1 -2 2 -1 3 -3 0 2 -2 1 -3 3 -1 1 -2 2  -3 2 -1 2 -2 3 -3 1 -1 2 -2 3 -1 -1 2 -3 2 -1 3 -2  -1 3 -2 1 -3 2 0 -2 3 -1 2 -3 1 -1 2 -2 3 -3 1 -1  2 -3 1 -2 3 -1 2 -2 3 -3 5 -4 3 -2 1 -3 2 -2 3 -1  1
1 -1 2 0 -2 1 -1 2 -1 0 1 -2 2 -1 1 0 -1 2 -2 1  -1 1 0 2 -1 1 3 -6 5 -3 2 -1 1 -2 2 -1 0 1 -2 1  2 -1 1 -1 0 1 -2 1 -1 4 -5 3 -2 1 -1 2 -1 0 1 -1  0 -1 2 -2 1 -1 1 0 -2 2 -1 1 -1 2 -1 0 1 -2 1 -1  1 0 -1 2 -2 1 -1 1 -2 1 0 2 -1 -1 1 -2 1 -1 2 -1  1 -2 1 -1 2 -1 0 1 -1 2 -1 1 -2 2 4 -3 4 -3 2 -2  2 -1 7 -6 4 -3 2 -2 1 -1 2 -1 0 1 -2 1 -1 2 -1 1  1 -1 2 0 -2 1 -1 2 -1 1 3 -3 4 -3 2 -1 1 -2 1 -1  2 -2 1 -1 2 -1 0 1 3 -4 4 -3 4 -5 3 -2 2 -1 1 -2  5 -4 3 -3 4 -3 2 -3 3 -2 2 -1 1 -2 1 -1 2 -1 1 -2  2 -3 3 -2 2 -1 1 -2 1 -1 0 1 -2 1 -1 2 -1 1 -1 2  -1 1 0 2 -1 -2 1 -1 1 2 -2 0 1 -1 2 -1 -1 1 -2 2  -2 1 -1 1 2 -1 0 -1 1 -1 2 -2 1 0 -1 1 -2 2 -1 0  2 -1 1 -1 0 1 -2 1 -1 2 0 -1 1 -2 2 -1 1 0 -1 1  1 0 -1 2 -2 1 -1 1 -2 1 0 2 -1 -1 1 -2 1 -1 2 -1  1 -1 2 0 -2 1 -1 2 -1 0 1 -2 2 -1 1 0 -1 2 -2 1  0 -1 2 -2 1 -1 1 0 -2 2 -1 1 -1 2 -1 0 1 -2 1 -1  -2 1 -1 1 2 -1 0 -1 1 -1 2 -2 1 0 -1 1 -2 2 -1 0  0
3 -1 2 -3 1 -2 2 -1 3 -3 0 2 -2 1 -3 3 -1 1 -2 2  2 -3 1 -2 3 -1 2 -2 0 3 -2 1 -3 2 -1 2 -3 3 -1 1  -1 3 -2 1 -3 2 0 -2 3 -1 2 -3 1 -1 2 -2 3 -3 1 -1  -2 1 -3 2 -1 3 -2 0 2 -3 1 -1 3 -2 2 -1 -2 3 -1 2  1 -2 3 -3 2 -1 1 -3 2 -2 3 -1 0 2 -3 1 -2 3 -2 1  1 -2 3 -1 2 -3 2 -2 3 -1 2 -3 1 -2 2 0 0 0 0 0  0 0 0 0 0 0 0 0 0 0 0 0 0 0 0 0 0 0 0 0  0 0 0 0 0 0 0 0 0 0 0 0 0 0 0 0 0 0 0 0  0 0 0 0 0 0 0 0 0 0 0 0 0 0 0 0 0 0 0 0  0 0 0 0 0 0 0 0 0 0 0 0 0 0 0 0 0 0 0 0  0 0 0 0 0 0 0 0 0 0 0 0 0 0 0 0 0 0 0 0  0 0 0 0 0 0 0 0 0 0 0 0 0 0 0 0 0 0 0 0  0 0 0 0 0 0 0 0 0 0 0 0 0 0 0 0 0 0 0 0  0 0 0 0 0 0 0 0 0 0 0 0 0 0 0 0 0 0 0 0  0 0 0 0 0 0 0 0 0 0 0 0 0 0 0 0 0 0 0 0  0 0 0 0 0 0 0 0 0 0 0 0 0 0 0 0 0 0 0 0  0 0 0 0 0 0 0 0 0 0 0 0 0 0 0 0 0 0 0 0  0 0 0 0 0 0 0 0 0 0 0 0 0 0 0 0 0 0 0 0  0
}\rawdata
\pgfplotstabletranspose\seis{\rawdata}
\newcommand\lbl{\fontsize{13.5}{16}\selectfont}
\begin{document}
\begin{tikzpicture}
\pgfplotsset{
  helibase/.style={
    at={(50bp,49bp)}, anchor=south west,
    scale only axis, width=517bp, height=413bp,
    xmin=0, xmax=60, ymin=-1, ymax=24,
    tick align=outside,
    major tick length=7bp, minor tick length=4bp,
    axis line style={axgray, line width=1.3bp},
    every tick/.append style={axgray, line width=0.9bp},
    tick label style={font=\lbl},
    /pgf/number format/assume math mode=true,
    ytick={0,...,23},
  },
}
\begin{axis}[helibase,
  xtick={0,10,...,60}, xticklabels={00,10,20,30,40,50,00},
  minor xtick={5,15,...,55},
  xtick pos=bottom, ytick pos=left,
  xticklabel style={yshift=-6bp},
  yticklabel style={xshift=-3bp},
  grid=major, major grid style={gridgray, dotted, line width=0.7bp},
  yticklabels={20:00,19:00,18:00,17:00,16:00,15:00,14:00,13:00,12:00,11:00,10:00,09:00,08:00,07:00,06:00,05:00,04:00,03:00,02:00,01:00,00:00,23:00,22:00,21:00},
  every axis title/.style={at={(0.5,1)}, anchor=base, yshift=13bp, font=\lbl},
  title={Seismisk aktivitet siste døgn},
  every axis x label/.style={at={(0.5,0)}, anchor=base, yshift=-46bp, font=\lbl},
  xlabel={Klokkeslett (UTC)},
  tb/.style={trblue, line width=0.65bp},
  tk/.style={black, line width=0.75bp},
]
\addplot[tb] table[x expr=\coordindex/6, y expr=23+\thisrowno{1}/16.5]{\seis};
\addplot[tk] table[x expr=\coordindex/6, y expr=22+\thisrowno{2}/16.5]{\seis};
\addplot[tb] table[x expr=\coordindex/6, y expr=21+\thisrowno{3}/16.5]{\seis};
\addplot[tk] table[x expr=\coordindex/6, y expr=20+\thisrowno{4}/16.5]{\seis};
\addplot[tb] table[x expr=\coordindex/6, y expr=19+\thisrowno{5}/16.5]{\seis};
\addplot[tk] table[x expr=\coordindex/6, y expr=18+\thisrowno{6}/16.5]{\seis};
\addplot[tb] table[x expr=\coordindex/6, y expr=17+\thisrowno{7}/16.5]{\seis};
\addplot[tk,restrict x to domain=0:57.01] table[x expr=\coordindex/6, y expr=16+\thisrowno{8}/16.5]{\seis};
\addplot[tb,restrict x to domain=9.99:60] table[x expr=\coordindex/6, y expr=15+\thisrowno{9}/16.5]{\seis};
\addplot[tk] table[x expr=\coordindex/6, y expr=14+\thisrowno{10}/16.5]{\seis};
\addplot[tb] table[x expr=\coordindex/6, y expr=13+\thisrowno{11}/16.5]{\seis};
\addplot[tk] table[x expr=\coordindex/6, y expr=12+\thisrowno{12}/16.5]{\seis};
\addplot[tb] table[x expr=\coordindex/6, y expr=11+\thisrowno{13}/16.5]{\seis};
\addplot[tk] table[x expr=\coordindex/6, y expr=10+\thisrowno{14}/16.5]{\seis};
\addplot[tb] table[x expr=\coordindex/6, y expr=9+\thisrowno{15}/16.5]{\seis};
\addplot[tk] table[x expr=\coordindex/6, y expr=8+\thisrowno{16}/16.5]{\seis};
\addplot[tb] table[x expr=\coordindex/6, y expr=7+\thisrowno{17}/16.5]{\seis};
\addplot[tk] table[x expr=\coordindex/6, y expr=6+\thisrowno{18}/16.5]{\seis};
\addplot[tb] table[x expr=\coordindex/6, y expr=5+\thisrowno{19}/16.5]{\seis};
\addplot[tk] table[x expr=\coordindex/6, y expr=4+\thisrowno{20}/16.5]{\seis};
\addplot[tb] table[x expr=\coordindex/6, y expr=3+\thisrowno{21}/16.5]{\seis};
\addplot[tk] table[x expr=\coordindex/6, y expr=2+\thisrowno{22}/16.5]{\seis};
\addplot[tb] table[x expr=\coordindex/6, y expr=1+\thisrowno{23}/16.5]{\seis};
\addplot[tk,restrict x to domain=0:19.01] table[x expr=\coordindex/6, y expr=0+\thisrowno{24}/16.5]{\seis};
\end{axis}
\begin{axis}[helibase,
  axis x line=none, axis y line*=right,
  yticklabel style={xshift=4bp},
  yticklabels={21:00,20:00,19:00,18:00,17:00,16:00,15:00,14:00,13:00,12:00,11:00,10:00,09:00,08:00,07:00,06:00,05:00,04:00,03:00,02:00,01:00,00:00,23:00,22:00},
]
\end{axis}
\pgfresetboundingbox
\path[use as bounding box] (0,0) rectangle (616bp,488bp);
\end{tikzpicture}
\end{document}
